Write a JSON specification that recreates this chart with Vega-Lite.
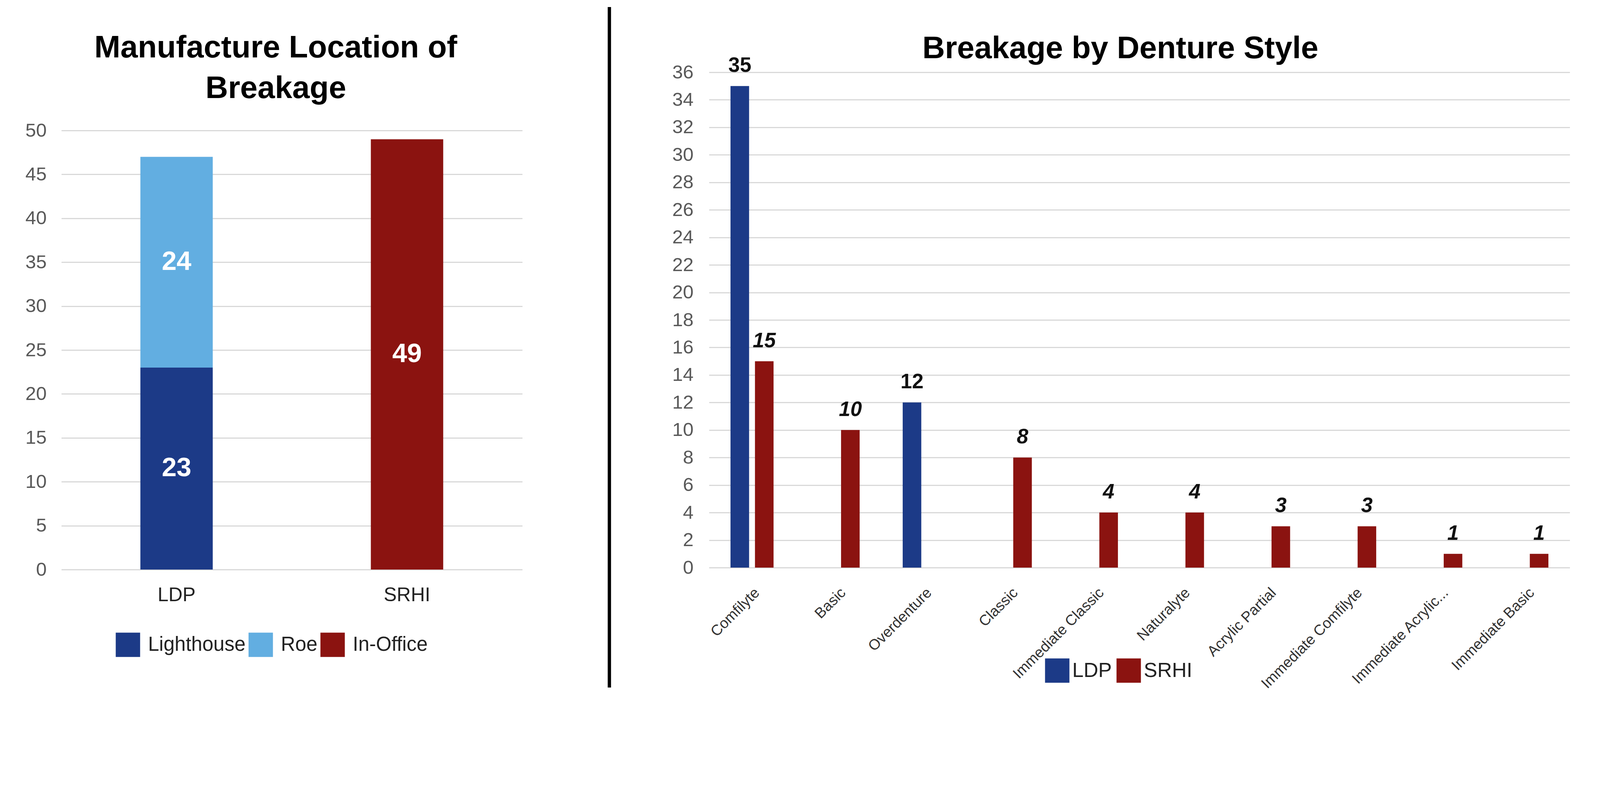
{
  "$schema": "https://vega.github.io/schema/vega-lite/v6.json",
  "background": "white",
  "padding": {"left": 64, "top": 13, "right": 0, "bottom": 0},
  "spacing": 155,
  "config": {
    "font": "Liberation Sans",
    "view": {"stroke": null},
    "title": {"fontSize": 80, "fontWeight": "bold", "color": "black", "anchor": "middle"},
    "axis": {"domain": false, "ticks": false, "title": null, "gridColor": "#d9d9d9", "gridWidth": 2.8, "labelLimit": 0},
    "legend": {"labelLimit": 0}
  },
  "resolve": {"scale": {"color": "independent"}, "legend": {"color": "independent"}},
  "hconcat": [
    {"spacing": 64, "vconcat": [
      {
        "width": 1,
        "height": 1,
        "data": {"values": [{"gap": 0}]},
        "mark": {"type": "rect", "opacity": 0},
        "encoding": {}
      },
      {
        "title": {"text": "Manufacture Location of", "subtitle": "Breakage", "subtitleFontSize": 80, "subtitleFontWeight": "bold", "subtitleColor": "black", "subtitlePadding": 24, "offset": 42, "dx": -41},
        "width": 1180,
        "height": 1124,
        "data": {"values": [
          {"site": "LDP", "maker": "Lighthouse", "count": 23},
          {"site": "LDP", "maker": "Roe", "count": 24},
          {"site": "SRHI", "maker": "In-Office", "count": 49}
        ]},
        "encoding": {
          "x": {"field": "site", "type": "nominal", "scale": {"paddingInner": 0.686, "paddingOuter": 0.343},
                "axis": {"labelAngle": 0, "labelFontSize": 50, "labelColor": "#222222", "labelPadding": 40}},
          "y": {"aggregate": "sum", "field": "count", "type": "quantitative", "stack": "zero",
                "scale": {"domain": [0, 50], "nice": false},
                "axis": {"values": [0, 5, 10, 15, 20, 25, 30, 35, 40, 45, 50], "labelFontSize": 49, "labelColor": "#595959", "labelPadding": 38}},
          "order": {"field": "maker", "sort": "ascending"}
        },
        "layer": [
          {
            "mark": {"type": "bar"},
            "encoding": {
              "color": {"field": "maker", "type": "nominal",
                        "scale": {"domain": ["Lighthouse", "Roe", "In-Office"], "range": ["#1c3a87", "#62aee1", "#8b1310"]},
                        "legend": {"orient": "none", "direction": "horizontal", "legendX": 139, "legendY": 1601, "padding": 0,
                                   "title": null, "symbolType": "square", "symbolSize": 3897, "symbolStrokeWidth": 0,
                                   "labelFontSize": 51, "labelColor": "#222222", "labelOffset": 20, "columnPadding": 7}}
            }
          },
          {
            "mark": {"type": "text", "color": "white", "fontSize": 68, "fontWeight": "bold", "baseline": "middle"},
            "encoding": {
              "y": {"aggregate": "sum", "field": "count", "type": "quantitative", "stack": "zero", "bandPosition": 0.5},
              "text": {"aggregate": "sum", "field": "count", "type": "quantitative"}
            }
          }
        ]
      }
    ]},
    {"vconcat": [
      {
        "width": 68,
        "height": 1742,
        "data": {"values": [{"line": 1}]},
        "mark": {"type": "rule", "color": "black", "strokeWidth": 8.5},
        "encoding": {
          "x": {"field": "line", "type": "quantitative", "scale": {"domain": [0, 1]}, "axis": null}
        }
      }
    ]},
    {"spacing": 66, "vconcat": [
      {
        "width": 1,
        "height": 1,
        "data": {"values": [{"gap": 0}]},
        "mark": {"type": "rect", "opacity": 0},
        "encoding": {}
      },
      {
        "title": {"text": "Breakage by Denture Style", "offset": -24, "dx": -49},
        "width": 2204,
        "height": 1268,
        "data": {"values": [
          {"style": "Comfilyte", "site": "LDP", "count": 35},
          {"style": "Comfilyte", "site": "SRHI", "count": 15},
          {"style": "Basic", "site": "SRHI", "count": 10},
          {"style": "Overdenture", "site": "LDP", "count": 12},
          {"style": "Classic", "site": "SRHI", "count": 8},
          {"style": "Immediate Classic", "site": "SRHI", "count": 4},
          {"style": "Naturalyte", "site": "SRHI", "count": 4},
          {"style": "Acrylic Partial", "site": "SRHI", "count": 3},
          {"style": "Immediate Comfilyte", "site": "SRHI", "count": 3},
          {"style": "Immediate Acrylic...", "site": "SRHI", "count": 1},
          {"style": "Immediate Basic", "site": "SRHI", "count": 1}
        ]},
        "encoding": {
          "x": {"field": "style", "type": "nominal",
                "sort": ["Comfilyte", "Basic", "Overdenture", "Classic", "Immediate Classic", "Naturalyte", "Acrylic Partial", "Immediate Comfilyte", "Immediate Acrylic...", "Immediate Basic"],
                "scale": {"paddingInner": 0.5, "paddingOuter": 0.25},
                "axis": {"labelAngle": -45, "labelFontSize": 38, "labelColor": "#333333", "labelPadding": 45}},
          "xOffset": {"field": "site", "type": "nominal", "scale": {"domain": ["LDP", "SRHI"], "paddingInner": 0.24, "paddingOuter": 0}},
          "y": {"field": "count", "type": "quantitative",
                "scale": {"domain": [0, 36], "nice": false},
                "axis": {"values": [0, 2, 4, 6, 8, 10, 12, 14, 16, 18, 20, 22, 24, 26, 28, 30, 32, 34, 36], "labelFontSize": 49, "labelColor": "#595959", "labelPadding": 40}}
        },
        "layer": [
          {
            "mark": {"type": "bar"},
            "encoding": {
              "color": {"field": "site", "type": "nominal",
                        "scale": {"domain": ["LDP", "SRHI"], "range": ["#1c3a87", "#8b1310"]},
                        "legend": {"orient": "none", "direction": "horizontal", "legendX": 860, "legendY": 1667, "padding": 0,
                                   "title": null, "symbolType": "square", "symbolSize": 3897, "symbolStrokeWidth": 0,
                                   "labelFontSize": 52, "labelColor": "#222222", "labelOffset": 7, "columnPadding": 11}}
            }
          },
          {
            "transform": [{"filter": "datum.site == 'LDP'"}],
            "mark": {"type": "text", "fontSize": 53, "fontWeight": "bold", "color": "#111111", "baseline": "alphabetic", "dy": -36},
            "encoding": {"text": {"field": "count", "type": "quantitative"}}
          },
          {
            "transform": [{"filter": "datum.site == 'SRHI'"}],
            "mark": {"type": "text", "fontSize": 53, "fontWeight": "bold", "fontStyle": "italic", "color": "#111111", "baseline": "alphabetic", "dy": -36},
            "encoding": {"text": {"field": "count", "type": "quantitative"}}
          }
        ]
      }
    ]}
  ]
}
